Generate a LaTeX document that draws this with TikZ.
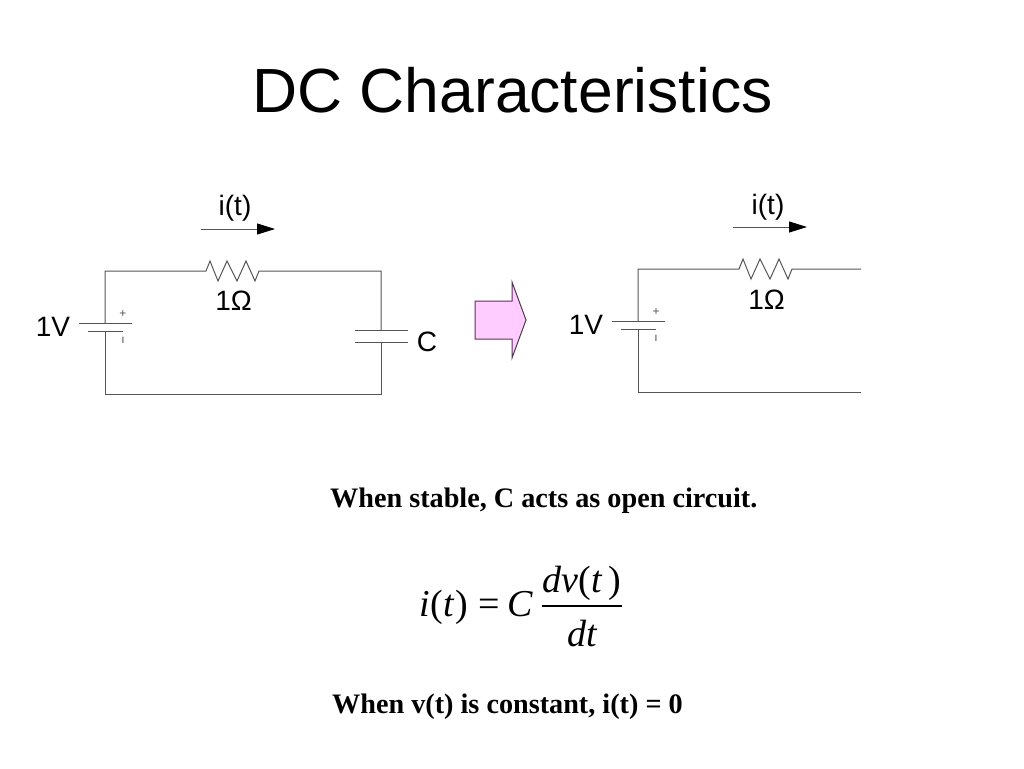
\documentclass[tikz,border=0pt]{standalone}
\usepackage{fontspec}
\setmainfont{Liberation Sans}
\newfontfamily\serifbody{Liberation Serif}
\usetikzlibrary{arrows.meta}
\definecolor{wirecolor}{HTML}{555555}
\definecolor{pinkfill}{HTML}{FFCCFF}
\definecolor{pinkline}{HTML}{553355}
\tikzset{
  wire/.style={draw=wirecolor,line width=1pt},
  current/.style={draw=wirecolor,line width=1pt,-{Triangle[length=18pt,width=11pt,color=black]}},
  labeltext/.style={inner sep=0pt,font=\fontsize{28}{30}\selectfont},
  polarity/.style={inner sep=0pt,text=wirecolor,font=\fontsize{12}{12}\selectfont},
  remark/.style={inner sep=0pt,anchor=base west,font=\fontsize{28.2}{30}\selectfont\serifbody\bfseries},
  eqtext/.style={inner sep=0pt,anchor=base,font=\fontsize{38}{40}\selectfont\serifbody\itshape},
}
\begin{document}
\begin{tikzpicture}[x=1pt,y=-1pt]
\useasboundingbox (0,0) rectangle (1024,768);
% Title
\node[inner sep=0pt,font=\fontsize{62.4}{66}\selectfont] (title) at (512.5,90) {DC Characteristics};
% Left circuit corners
\coordinate (lnw) at (105,271);
\coordinate (lne) at (381,271);
\coordinate (lsw) at (105,394);
\coordinate (lse) at (381,394);
\coordinate (lbatup) at (105,323);
\coordinate (lbatdn) at (105,331);
\coordinate (lcapup) at (381,330);
\coordinate (lcapdn) at (381,342);
% Left circuit wires and resistor
\draw[wire] (lbatup) -- (lnw) -- ++(101,0) -- ++(4,-10) -- ++(8,20) -- ++(9,-20) -- ++(10,20) -- ++(9,-20) -- ++(9,20) -- ++(4,-10) -- (lne) -- (lcapup);
\draw[wire] (lbatdn) -- (lsw) -- (lse) -- (lcapdn);
% Left battery
\draw[wire] (79,323) -- (132,323);
\draw[wire] (88,331) -- (123,331);
\node[polarity] (lplus) at (123,314) {+};
\node[polarity] (lminus) at (123,340) {ı};
\node[labeltext] (lvolt) at (53,327) {1V};
% Left capacitor
\draw[wire] (355,330) -- (408,330);
\draw[wire] (355,342) -- (408,342);
\node[labeltext] (lcap) at (427,342) {C};
% Left labels and current arrow
\node[labeltext] (lres) at (233.5,301) {1Ω};
\node[labeltext] (lcur) at (235,208) {i(t)};
\coordinate (larrowa) at (201,229);
\coordinate (larrowb) at (275,229);
\draw[current] (larrowa) -- (larrowb);
% Block arrow between the circuits
\draw[draw=pinkline,fill=pinkfill,line width=1pt] (475,301) -- (512,301) -- (512,282) -- (526,320) -- (512,358) -- (512,339) -- (475,339) -- cycle;
% Right circuit corners
\coordinate (rnw) at (638,269);
\coordinate (rne) at (861,269);
\coordinate (rsw) at (638,392);
\coordinate (rse) at (861,392);
\coordinate (rbatup) at (638,321);
\coordinate (rbatdn) at (638,329);
% Right circuit wires and resistor
\draw[wire] (rbatup) -- (rnw) -- ++(101,0) -- ++(4,-10) -- ++(8,20) -- ++(9,-20) -- ++(10,20) -- ++(9,-20) -- ++(9,20) -- ++(4,-10) -- (rne);
\draw[wire] (rbatdn) -- (rsw) -- (rse);
% Right battery
\draw[wire] (612,321) -- (665,321);
\draw[wire] (621,329) -- (656,329);
\node[polarity] (rplus) at (656,312) {+};
\node[polarity] (rminus) at (656,338) {ı};
\node[labeltext] (rvolt) at (586,325) {1V};
% Right labels and current arrow
\node[labeltext] (rres) at (766.5,300) {1Ω};
\node[labeltext] (rcur) at (768,207) {i(t)};
\coordinate (rarrowa) at (733,227);
\coordinate (rarrowb) at (807,227);
\draw[current] (rarrowa) -- (rarrowb);
% Remarks
\node[remark] (stable) at (330,507) {When stable, C acts as open circuit.};
\node[remark] (constant) at (332,713) {When v(t) is constant, i(t) = 0};
% Equation
\node[eqtext] (eqleft) at (443.5,616) {\textit{i}\kern1pt{\upshape(}\textit{t}\kern1pt{\upshape)}};
\node[eqtext] (eqsign) at (489,616) {\upshape=};
\node[eqtext] (eqcap) at (520,616) {\textit{C}};
\node[eqtext] (eqnum) at (582,592) {\textit{dv}{\upshape(}\textit{t}\,{\upshape)}};
\node[eqtext] (eqden) at (582,646) {\textit{dt}};
\coordinate (eqrulea) at (542,606);
\coordinate (eqruleb) at (622,606);
\draw[line width=1.5pt] (eqrulea) -- (eqruleb);
\end{tikzpicture}
\end{document}
